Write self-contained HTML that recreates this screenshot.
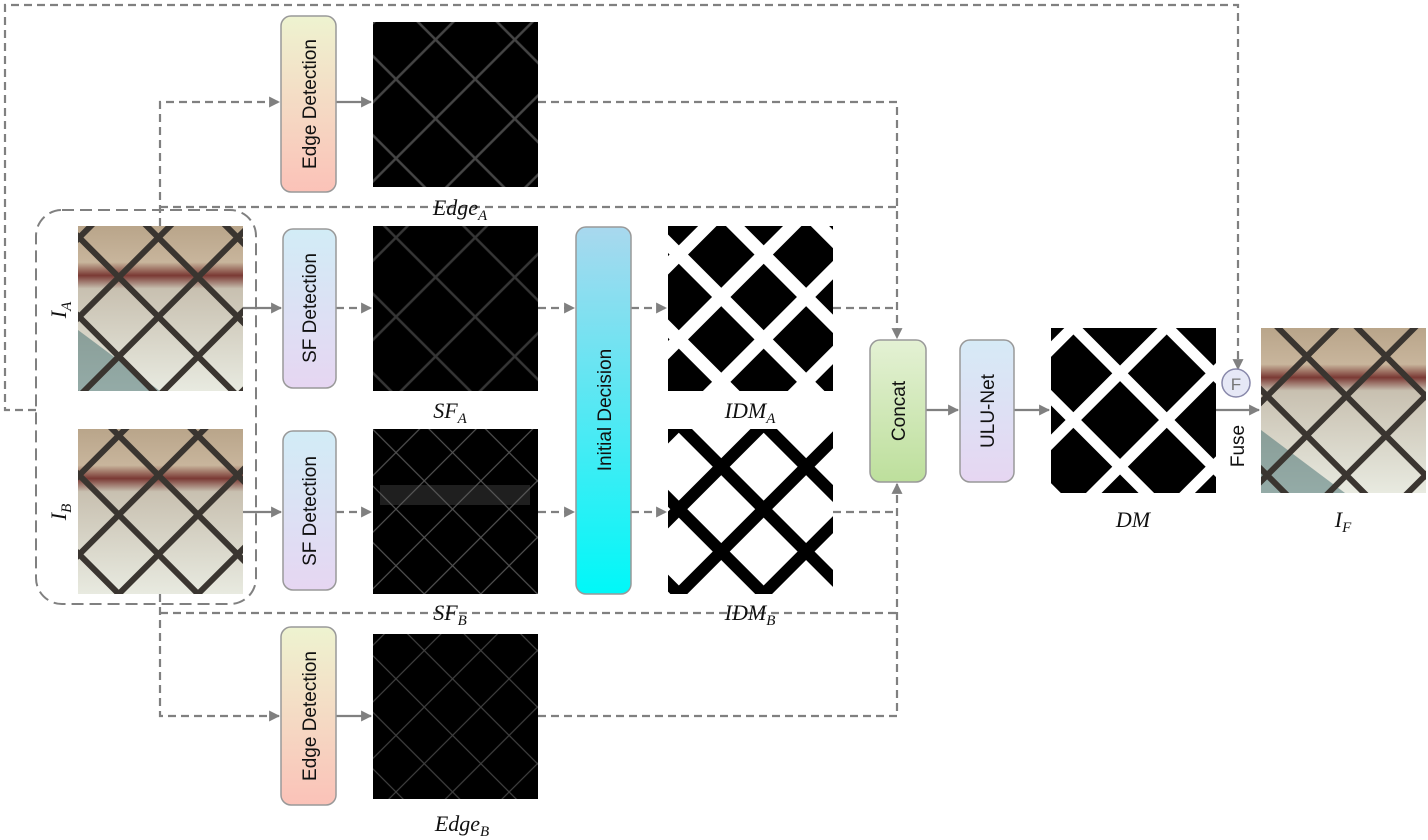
<!DOCTYPE html>
<html><head><meta charset="utf-8"><style>
html,body{margin:0;padding:0;background:#fff;}
svg{display:block;font-family:"Liberation Sans",sans-serif;}
.lbl{font-family:"Liberation Serif",serif;font-style:italic;font-size:22px;fill:#111;}
.sub{font-size:15px;}
.bt{font-size:19px;fill:#111;}
</style></head><body>
<svg width="1428" height="840" viewBox="0 0 1428 840">
<defs>
 <marker id="ah" viewBox="0 0 10 10" refX="9" refY="5" markerWidth="5" markerHeight="5" orient="auto"><path d="M0,0 L10,5 L0,10 z" fill="#808080"/></marker>
 <linearGradient id="gEdge" x1="0" y1="0" x2="0" y2="1"><stop offset="0" stop-color="#eef3d0"/><stop offset="1" stop-color="#fbc2b8"/></linearGradient>
 <linearGradient id="gSF" x1="0" y1="0" x2="0" y2="1"><stop offset="0" stop-color="#d2ecf6"/><stop offset="1" stop-color="#e6d6f2"/></linearGradient>
 <linearGradient id="gInit" x1="0" y1="0" x2="0" y2="1"><stop offset="0" stop-color="#a9d8ee"/><stop offset="1" stop-color="#00f8f8"/></linearGradient>
 <linearGradient id="gConcat" x1="0" y1="0" x2="0" y2="1"><stop offset="0" stop-color="#e4f1d4"/><stop offset="1" stop-color="#bddf9c"/></linearGradient>
 <linearGradient id="gULU" x1="0" y1="0" x2="0" y2="1"><stop offset="0" stop-color="#d6eaf6"/><stop offset="1" stop-color="#e6d6f2"/></linearGradient>
 <linearGradient id="gPhoto" x1="0" y1="0" x2="0" y2="1"><stop offset="0" stop-color="#b9a58a"/><stop offset="0.22" stop-color="#c8b59c"/><stop offset="0.3" stop-color="#7a3a34"/><stop offset="0.38" stop-color="#c8c0b0"/><stop offset="1" stop-color="#e8eae0"/></linearGradient>
 <pattern id="meshPhoto" width="56" height="56" patternUnits="userSpaceOnUse" patternTransform="rotate(45)"><rect width="56" height="56" fill="none" stroke="#3a3530" stroke-width="6"/></pattern>
 <pattern id="meshThin" width="56" height="56" patternUnits="userSpaceOnUse" patternTransform="rotate(45)"><rect width="56" height="56" fill="none" stroke="#9a9a9a" stroke-width="2.5"/></pattern>
 <pattern id="meshThinFaint" width="40" height="40" patternUnits="userSpaceOnUse" patternTransform="rotate(45)"><rect width="40" height="40" fill="none" stroke="#777" stroke-width="1.2"/></pattern>
 <pattern id="meshWhite" width="60" height="60" patternUnits="userSpaceOnUse" patternTransform="rotate(45)"><rect width="60" height="60" fill="none" stroke="#fff" stroke-width="13"/></pattern>
 <pattern id="meshBlack" width="60" height="60" patternUnits="userSpaceOnUse" patternTransform="rotate(45)"><rect width="60" height="60" fill="none" stroke="#000" stroke-width="12"/></pattern>
 <pattern id="meshDM" width="66" height="66" patternUnits="userSpaceOnUse" patternTransform="rotate(45)"><rect width="66" height="66" fill="none" stroke="#fff" stroke-width="11"/></pattern>
</defs>

<path d="M36,410 H5 V5 H1238 V369" fill="none" stroke="#808080" stroke-width="2.2" stroke-dasharray="8,5" marker-end="url(#ah)"/>

<rect x="36" y="210" width="220" height="394" rx="26" fill="none" stroke="#808080" stroke-width="2" stroke-dasharray="12,6"/>

<g fill="none" stroke="#808080" stroke-width="2.2" stroke-dasharray="8,5">
 <path d="M160,226 V102 H279" marker-end="url(#ah)"/>
 <path d="M160,207 H897"/>
 <path d="M538,102 H897 V338" marker-end="url(#ah)"/>
 <path d="M336,308 H371" marker-end="url(#ah)"/>
 <path d="M538,308 H574" marker-end="url(#ah)"/>
 <path d="M631,308 H666" marker-end="url(#ah)"/>
 <path d="M833,308 H897"/>
 <path d="M336,512 H371" marker-end="url(#ah)"/>
 <path d="M538,512 H574" marker-end="url(#ah)"/>
 <path d="M631,512 H666" marker-end="url(#ah)"/>
 <path d="M833,512 H897"/>
 <path d="M160,594 V716 H279" marker-end="url(#ah)"/>
 <path d="M160,613 H897"/>
 <path d="M538,716 H897 V484" marker-end="url(#ah)"/>
</g>
<g fill="none" stroke="#808080" stroke-width="2.2">
 <path d="M336,102 H371" marker-end="url(#ah)"/>
 <path d="M336,716 H371" marker-end="url(#ah)"/>
 <path d="M243,308 H281" marker-end="url(#ah)"/>
 <path d="M243,512 H281" marker-end="url(#ah)"/>
 <path d="M926,410 H958" marker-end="url(#ah)"/>
 <path d="M1014,410 H1049" marker-end="url(#ah)"/>
 <path d="M1216,410 H1259" marker-end="url(#ah)"/>
</g>

<g><rect x="78" y="226" width="165" height="165" fill="url(#gPhoto)"/><path d="M78,391 V330 L160,391 Z" fill="#3f6b6e" opacity="0.5"/><rect x="78" y="226" width="165" height="165" fill="url(#meshPhoto)"/></g>
<g><rect x="78" y="429" width="165" height="165" fill="url(#gPhoto)"/><rect x="78" y="429" width="165" height="165" fill="url(#meshPhoto)"/></g>
<text class="lbl" transform="translate(66,310) rotate(-90)" text-anchor="middle">I<tspan class="sub" dy="5">A</tspan></text>
<text class="lbl" transform="translate(66,512) rotate(-90)" text-anchor="middle">I<tspan class="sub" dy="5">B</tspan></text>

<rect x="281" y="16" width="55" height="176" rx="10" fill="url(#gEdge)" stroke="#999" stroke-width="1.5"/>
<text class="bt" transform="translate(316,104) rotate(-90)" text-anchor="middle">Edge Detection</text>
<rect x="281" y="627" width="55" height="178" rx="10" fill="url(#gEdge)" stroke="#999" stroke-width="1.5"/>
<text class="bt" transform="translate(316,716) rotate(-90)" text-anchor="middle">Edge Detection</text>

<rect x="283" y="229" width="53" height="159" rx="10" fill="url(#gSF)" stroke="#999" stroke-width="1.5"/>
<text class="bt" transform="translate(316,308) rotate(-90)" text-anchor="middle">SF Detection</text>
<rect x="283" y="431" width="53" height="159" rx="10" fill="url(#gSF)" stroke="#999" stroke-width="1.5"/>
<text class="bt" transform="translate(316,511) rotate(-90)" text-anchor="middle">SF Detection</text>

<g><rect x="373" y="22" width="165" height="165" fill="#000"/><rect x="373" y="22" width="165" height="165" fill="url(#meshThin)" opacity="0.45"/></g>
<g><rect x="373" y="226" width="165" height="165" fill="#000"/><rect x="373" y="226" width="165" height="165" fill="url(#meshThin)" opacity="0.35"/></g>
<g><rect x="373" y="429" width="165" height="165" fill="#000"/><rect x="373" y="429" width="165" height="165" fill="url(#meshThinFaint)" opacity="0.7"/><rect x="380" y="485" width="150" height="20" fill="#666" opacity="0.3"/></g>
<g><rect x="373" y="634" width="165" height="165" fill="#000"/><rect x="373" y="634" width="165" height="165" fill="url(#meshThinFaint)" opacity="0.55"/></g>
<text class="lbl" x="460" y="215" text-anchor="middle">Edge<tspan class="sub" dy="5">A</tspan></text>
<text class="lbl" x="450" y="418" text-anchor="middle">SF<tspan class="sub" dy="5">A</tspan></text>
<text class="lbl" x="450" y="620" text-anchor="middle">SF<tspan class="sub" dy="5">B</tspan></text>
<text class="lbl" x="462" y="831" text-anchor="middle">Edge<tspan class="sub" dy="5">B</tspan></text>

<rect x="576" y="227" width="55" height="367" rx="10" fill="url(#gInit)" stroke="#999" stroke-width="1.5"/>
<text class="bt" transform="translate(611,410) rotate(-90)" text-anchor="middle">Initial Decision</text>

<g><rect x="668" y="226" width="165" height="165" fill="#000"/><rect x="668" y="226" width="165" height="165" fill="url(#meshWhite)"/></g>
<g><rect x="668" y="429" width="165" height="165" fill="#fff"/><rect x="668" y="429" width="165" height="165" fill="url(#meshBlack)"/></g>
<text class="lbl" x="750" y="418" text-anchor="middle">IDM<tspan class="sub" dy="5">A</tspan></text>
<text class="lbl" x="750" y="620" text-anchor="middle">IDM<tspan class="sub" dy="5">B</tspan></text>

<rect x="870" y="340" width="56" height="142" rx="10" fill="url(#gConcat)" stroke="#999" stroke-width="1.5"/>
<text class="bt" transform="translate(905,411) rotate(-90)" text-anchor="middle">Concat</text>
<rect x="960" y="340" width="54" height="142" rx="10" fill="url(#gULU)" stroke="#999" stroke-width="1.5"/>
<text class="bt" transform="translate(994,411) rotate(-90)" text-anchor="middle">ULU-Net</text>

<g><rect x="1051" y="328" width="165" height="165" fill="#000"/><rect x="1051" y="328" width="165" height="165" fill="url(#meshDM)"/></g>
<text class="lbl" x="1133" y="527" text-anchor="middle">DM</text>

<circle cx="1236" cy="383" r="14" fill="#e6e8f6" stroke="#8888aa" stroke-width="1.5"/>
<text x="1236" y="390" text-anchor="middle" font-size="17" fill="#777">F</text>
<text class="bt" transform="translate(1244,446) rotate(-90)" text-anchor="middle">Fuse</text>

<g><rect x="1261" y="328" width="165" height="165" fill="url(#gPhoto)"/><path d="M1261,493 V430 L1345,493 Z" fill="#3f6b6e" opacity="0.5"/><rect x="1261" y="328" width="165" height="165" fill="url(#meshPhoto)"/></g>
<text class="lbl" x="1343" y="527" text-anchor="middle">I<tspan class="sub" dy="5">F</tspan></text>
</svg>
</body></html>
